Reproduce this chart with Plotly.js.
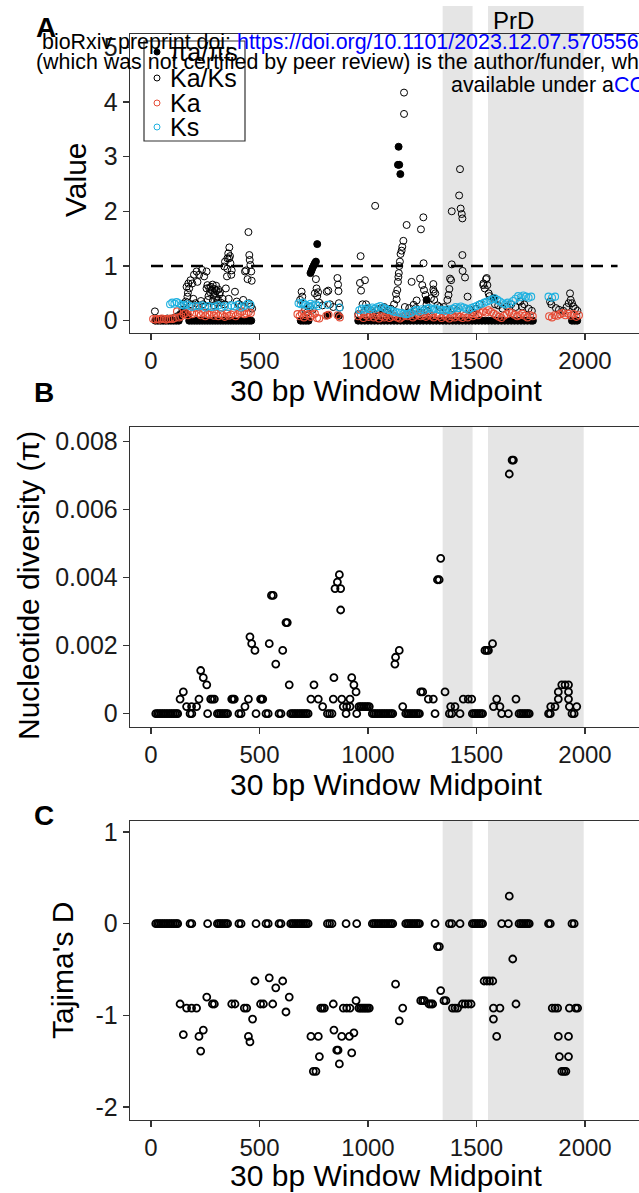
<!DOCTYPE html>
<html><head><meta charset="utf-8">
<script src="https://cdn.plot.ly/plotly-3.0.1.min.js"></script>
<style>html,body{margin:0;padding:0;overflow:hidden;background:#fff;width:639px;height:1193px}#chart{width:660px;height:1193px}</style>
</head><body><div id="chart"></div>
<script>
// ---------------- DATA ----------------
const xTickVals = [0, 500, 1000, 1500, 2000];
const xTickText = ['0', '500', '1000', '1500', '2000'];
const yTicksA = [0, 1, 2, 3, 4, 5];
const yTicksB = [0, 0.002, 0.004, 0.006, 0.008];
const yTickTextB = ['0', '0.002', '0.004', '0.006', '0.008'];
const yTicksC = [-2, -1, 0, 1];
const prdStart = [1344, 1553];
const prdEnd = [1482, 1994];
const neutralRatio = 1;          // Ka/Ks = 1 reference
const neutralFrom = 0, neutralTo = 2150;

// Panel A: πa/πs (filled)
const piRatioX = [20,32,44,56,68,80,92,104,116,128, 140,150,160,170,
  176,188,200,212,224,236,248,260,272,284,296,308,320,332,344,356,368,380,392,404,416,428,440,452,462,
  690,702,714,726,735,740,745,750,755,760,766,814,866,
  955,970,985,1000,1015,1030,1045,1060,1075,1090,1105,1120,1135,1150,1165,1180,1195,1210,1225,1240,1255,1270,1285,1300,1315,1330,1345,1360,1375,1390,1405,1420,1435,1450,1465,1480,1495,1510,1525,1540,1555,1570,1585,1600,1615,1630,1645,1660,1675,1690,1705,1720,1735,1750,1760,
  1138,1141,1144,1149,1270,1580,
  1940,1952,1964];
const piRatioVal = [0,0,0,0,0,0,0,0,0,0, 0.12,0.17,0.14,0.10,
  0,0,0,0,0,0,0,0,0,0,0,0,0,0,0,0,0,0,0,0,0,0,0,0,0,
  0,0,0,0,0.87,0.92,0.97,1.01,1.05,1.08,1.40,0.10,0.09,
  0,0,0,0,0,0,0,0,0,0,0,0,0,0,0,0,0,0,0,0,0,0,0,0,0,0,0,0,0,0,0,0,0,0,0,0,0,0,0,0,0,0,0,0,0,0,0,0,0,0,0,0,0,0,0,
  2.85,3.18,2.85,2.68,0.38,0.41,
  0,0,0];

// Panel A: Ka/Ks (open black)
const kaksX = [18,30,45,60,75,90,105,120,135,145,150,160,164,168,170,172,176,182,185,190,195,198,205,210,214,220,222,230,235,240,245,250,256,256,260,262,265,268,272,276,280,284,285,288,290,292,295,300,300,302,305,308,310,315,318,322,330,338,338,341,345,350,352,352,356,358,360,361,364,366,370,372,387,395,405,418,425,433,438,445,449,452,453,455,458,460,462,464,466,
  687,694,697,702,710,720,733,745,755,760,763,766,770,775,790,810,817,825,840,859,862,864,866,870,
  955,963,966,968,975,980,986,991,1000,1010,1015,1025,1033,1045,1050,1060,1070,1075,1085,1090,1100,1105,1115,1120,1129,1132,1135,1138,1140,1142,1144,1147,1150,1155,1158,1163,1166,1166,1170,1175,1178,1185,1190,1200,1201,1210,1215,1220,1224,1230,1240,1244,1245,1250,1255,1256,1258,1260,1265,1270,1275,1285,1290,1301,1301,1303,1305,1310,1320,1330,
  1350,1360,1366,1371,1375,1378,1383,1386,1386,1395,1410,1420,1424,1427,1432,1435,1435,1436,1447,1459,1470,1485,1500,1515,1531,1532,1538,1544,1547,1550,1556,1560,1585,1600,1620,1640,1660,1680,1701,1710,1720,1740,1755,
  1839,1845,1866,1880,1900,1915,1925,1931,1934,1940,1946,1955,1965];
const kaksVal = [0.17,0.02,0.03,0.02,0.04,0.03,0.05,0.08,0.12,0.20,0.31,0.35,0.62,0.44,0.51,0.68,0.59,0.74,0.30,0.68,0.40,0.84,0.32,0.90,0.71,0.28,0.84,0.36,0.93,0.30,0.81,0.26,0.90,0.59,0.65,0.38,0.45,0.60,0.52,0.62,0.56,0.66,0.36,0.47,0.28,0.58,0.50,0.42,0.64,0.55,0.33,0.38,0.57,0.48,0.52,0.33,0.40,0.30,0.99,1.08,0.59,0.81,0.95,1.14,1.23,0.40,1.14,1.34,1.18,1.05,0.84,0.92,0.53,0.35,0.30,0.28,0.38,0.90,0.92,0.76,1.62,0.32,1.20,1.11,1.02,0.26,0.90,0.73,0.22,
  0.38,0.53,0.44,0.30,0.20,0.15,0.25,0.20,0.50,0.76,0.59,0.45,0.52,0.33,0.28,0.53,0.55,0.30,0.25,0.78,0.66,0.54,0.32,0.24,
  0.12,0.69,1.18,0.55,0.30,0.15,0.74,0.30,0.22,0.10,0.18,0.14,2.10,0.20,0.12,0.23,0.10,0.25,0.15,0.18,0.12,0.22,0.09,0.30,0.49,0.39,0.56,0.71,0.80,0.87,1.00,1.08,1.22,1.28,1.35,1.46,4.17,3.78,0.25,0.12,1.75,0.15,0.23,0.10,0.71,0.29,0.18,0.23,0.37,0.12,0.77,1.67,0.15,0.65,1.89,1.05,0.56,0.20,0.47,0.30,0.17,0.13,0.41,0.67,0.57,0.53,0.38,0.50,0.28,0.25,
  0.25,0.20,0.38,0.47,0.58,0.77,0.74,1.03,2.00,0.22,0.18,2.29,2.77,2.05,1.95,1.87,1.20,0.91,0.79,0.44,0.20,0.15,0.22,0.30,0.65,0.68,0.59,0.76,0.78,0.65,0.50,0.45,0.30,0.28,0.22,0.26,0.30,0.25,0.35,0.26,0.30,0.22,0.18,
  0.35,0.30,0.23,0.20,0.18,0.25,0.32,0.50,0.38,0.32,0.26,0.22,0.18];

// Panel A: Ka (open red)
const kaX = [10,20,30,40,50,60,70,80,90,100,110,120,130,140,150,160,170,180,190,200,210,220,230,240,250,260,270,280,290,300,310,320,330,340,350,360,370,380,390,400,410,420,430,440,450,460,
  675,685,695,705,715,725,735,745,755,765,775,808,818,860,870,
  955,967,979,991,1003,1015,1027,1039,1051,1063,1075,1087,1099,1111,1123,1135,1147,1159,1171,1183,1195,1207,1219,1231,1243,1255,1267,1279,1291,1303,1315,1327,1339,1351,1363,1375,1387,1399,1411,1423,1435,1447,1459,1471,1483,1495,1507,1519,1531,1543,1555,1567,1579,1591,1603,1615,1627,1639,1651,1663,1675,1687,1699,1711,1723,1735,1747,1759,
  1835,1848,1860,1872,1885,1898,1910,1922,1935,1948,1960,1972];
const kaVal = [0.03,0.02,0.03,0.02,0.04,0.03,0.02,0.03,0.04,0.03,0.05,0.17,0.06,0.08,0.12,0.14,0.10,0.16,0.12,0.15,0.24,0.13,0.10,0.14,0.08,0.12,0.11,0.15,0.09,0.13,0.08,0.12,0.10,0.07,0.13,0.09,0.11,0.14,0.08,0.12,0.14,0.17,0.12,0.13,0.16,0.14,
  0.12,0.08,0.13,0.06,0.10,0.12,0.07,0.11,0.13,0.05,0.04,0.09,0.11,0.10,0.06,
  0.08,0.12,0.05,0.10,0.07,0.11,0.06,0.09,0.04,0.08,0.06,0.10,0.05,0.07,0.09,0.06,0.04,0.07,0.10,0.08,0.11,0.06,0.09,0.12,0.08,0.10,0.07,0.11,0.09,0.06,0.10,0.08,0.05,0.09,0.07,0.04,0.08,0.06,0.10,0.07,0.05,0.09,0.06,0.11,0.08,0.12,0.10,0.14,0.17,0.15,0.19,0.16,0.13,0.10,0.07,0.05,0.09,0.12,0.16,0.14,0.11,0.08,0.10,0.13,0.09,0.06,0.10,0.08,
  0.08,0.06,0.10,0.09,0.12,0.14,0.10,0.13,0.09,0.12,0.07,0.10];

// Panel A: Ks (open cyan)
const ksX = [88,98,108,118,128,140,152,165,178,190,205,220,235,250,265,280,295,310,325,340,355,370,385,400,415,430,445,458,
  680,690,700,712,724,736,748,760,770,814,868,
  960,972,984,996,1008,1020,1032,1044,1056,1068,1080,1092,1104,1116,1128,1140,1152,1164,1176,1188,1200,1212,1224,1236,1248,1260,1272,1284,1296,1308,1320,1332,
  1344,1356,1368,1380,1392,1404,1416,1428,1440,1452,1464,1476,1488,1500,1512,1524,1536,1548,1560,1572,1584,1596,1608,1620,1632,1644,1656,1668,1680,1692,1704,1716,1728,1740,1752,
  1832,1848,1862];
const ksVal = [0.30,0.33,0.31,0.34,0.32,0.29,0.28,0.30,0.27,0.25,0.27,0.26,0.28,0.24,0.27,0.25,0.26,0.28,0.24,0.27,0.25,0.28,0.26,0.29,0.24,0.27,0.31,0.29,
  0.32,0.30,0.33,0.29,0.27,0.31,0.28,0.30,0.27,0.29,0.24,
  0.19,0.22,0.20,0.23,0.21,0.24,0.22,0.25,0.27,0.24,0.22,0.20,0.19,0.17,0.16,0.15,0.14,0.13,0.12,0.13,0.15,0.18,0.20,0.17,0.21,0.19,0.22,0.23,0.20,0.22,0.21,0.19,
  0.20,0.18,0.21,0.19,0.22,0.25,0.23,0.26,0.24,0.22,0.20,0.23,0.25,0.27,0.29,0.31,0.33,0.35,0.37,0.39,0.41,0.38,0.35,0.32,0.30,0.33,0.31,0.36,0.40,0.45,0.43,0.46,0.44,0.42,0.44,
  0.44,0.42,0.44];

// Panel B: nucleotide diversity π
const piX = [22,30,38,46,54,62,70,78,86,94,102,110,118,123,
  180,188,261,306,314,322,330,338,346,353,
  405,415,484,530,540,590,599,
  644,652,660,668,676,684,692,700,708,716,724,
  813,823,834,899,948,
  1020,1028,1036,1044,1052,1060,1068,1076,1084,1092,1100,1108,1114,
  1174,1182,1190,1198,1206,1214,1222,1230,1237,1309,
  1375,1386,1424,1481,1489,1497,1505,1513,1521,1528,
  1616,1647,1696,1704,1712,1720,1728,1736,1743,1832,1840,1940,1950,
  164,187,210,433,791,886,902,917,958,966,974,982,990,998,1006,1160,1381,1401,1578,1608,1842,1862,1928,1962,
  134,221,275,283,292,372,378,384,449,505,510,515,737,771,840,879,917,1278,1301,1439,1462,1478,1593,1682,1877,1924,
  149,945,1243,1252,1355,1877,1924,
  257,637,751,935,1893,1908,1924,
  241,843,925, 229, 575,1124, 1127,
  479,607,1144,1539,1547,1555,
  464,545,1574, 456, 622,628, 874, 555,563, 848,874, 859, 1320,1328, 868, 1335, 1651, 1664,1670];
const piVal = [0,0,0,0,0,0,0,0,0,0,0,0,0,0,
  0,0,0,0,0,0,0,0,0,0,
  0,0,0,0,0,0,0,
  0,0,0,0,0,0,0,0,0,0,0,
  0,0,0,0,0,
  0,0,0,0,0,0,0,0,0,0,0,0,0,
  0,0,0,0,0,0,0,0,0,0,
  0,0,0,0,0,0,0,0,0,0,
  0,0,0,0,0,0,0,0,0,0,0,0,0,
  0.00021,0.00021,0.00021,0.00021,0.00021,0.00021,0.00021,0.00021,0.00021,0.00021,0.00021,0.00021,0.00021,0.00021,0.00021,0.00021,0.00021,0.00021,0.00021,0.00021,0.00021,0.00021,0.00021,0.00021,
  0.00043,0.00043,0.00043,0.00043,0.00043,0.00043,0.00043,0.00043,0.00043,0.00043,0.00043,0.00043,0.00043,0.00043,0.00043,0.00043,0.00043,0.00043,0.00043,0.00043,0.00043,0.00043,0.00043,0.00043,0.00043,0.00043,
  0.00064,0.00064,0.00064,0.00064,0.00064,0.00064,0.00064,
  0.00085,0.00085,0.00085,0.00085,0.00085,0.00085,0.00085,
  0.00106,0.00106,0.00106, 0.00127, 0.00146,0.00146, 0.00166,
  0.00186,0.00186,0.00186,0.00186,0.00186,0.00186,
  0.00206,0.00206,0.00206, 0.00226, 0.00268,0.00268, 0.00305, 0.00348,0.00348, 0.00368,0.00368, 0.00387, 0.00394,0.00394, 0.00409, 0.00457, 0.00705, 0.00746,0.00746];

// Panel C: Tajima's D
const tajX = [22,30,38,46,54,62,70,78,86,94,102,110,118,123,
  180,188,261,306,314,322,330,338,346,353,
  405,415,484,530,540,590,599,
  644,652,660,668,676,684,692,700,708,716,724,
  813,823,834,899,948,
  1020,1028,1036,1044,1052,1060,1068,1076,1084,1092,1100,1108,1114,
  1174,1182,1190,1198,1206,1214,1222,1230,1237,1309,
  1375,1386,1424,1481,1489,1497,1505,1513,1521,1528,
  1616,1647,1696,1704,1712,1720,1728,1736,1743,1832,1840,1940,1950,
  134,149,164,187,210,221,229,241,257,283,292,372,387,430,441,449,456,468,479,505,518,545,561,575,607,622,637,
  737,771,748,760,776,782,790,799,840,843,856,862,868,879,886,902,917,914,925,935,945,958,966,974,982,990,998,1006,
  1127,1144,1160,1243,1252,1260,1281,1290,1298,1320,1329,1335,1350,1359,1389,1401,1413,1435,1448,1462,1475,
  1535,1548,1560,1575,1578,1608,1578,1593,1651,1667,1682,
  1849,1862,1874,1928,1957,1966,1877,1924,1882,1924,1893,1903,1912];
const tajVal = [0,0,0,0,0,0,0,0,0,0,0,0,0,0,
  0,0,0,0,0,0,0,0,0,0,
  0,0,0,0,0,0,0,
  0,0,0,0,0,0,0,0,0,0,0,
  0,0,0,0,0,
  0,0,0,0,0,0,0,0,0,0,0,0,0,
  0,0,0,0,0,0,0,0,0,0,
  0,0,0,0,0,0,0,0,0,0,
  0,0,0,0,0,0,0,0,0,0,0,0,0,
  -0.876,-1.21,-0.92,-0.92,-0.92,-1.23,-1.39,-1.16,-0.80,-0.876,-0.876,-0.876,-0.876,-0.92,-0.92,-1.23,-1.29,-1.04,-0.625,-0.876,-0.876,-0.59,-0.876,-0.70,-0.625,-0.963,-0.80,
  -1.23,-1.23,-1.61,-1.61,-1.45,-0.92,-0.92,-0.92,-0.876,-1.16,-1.38,-1.38,-1.53,-1.23,-0.92,-0.92,-0.92,-1.23,-1.41,-1.19,-0.84,-0.92,-0.92,-0.92,-0.92,-0.92,-0.92,-0.92,
  -0.66,-1.06,-0.92,-0.84,-0.84,-0.84,-0.876,-0.876,-0.876,-0.25,-0.25,-0.73,-0.84,-0.84,-0.92,-0.92,-0.92,-0.876,-0.876,-0.876,-0.876,
  -0.625,-0.625,-0.625,-0.625,-0.92,-0.92,-1.04,-1.23,0.30,-0.385,-0.876,
  -0.92,-0.92,-0.92,-0.92,-0.92,-0.92,-1.23,-1.23,-1.45,-1.45,-1.61,-1.61,-1.61];

const legendLabels = ['πa/πs', 'Ka/Ks', 'Ka', 'Ks'];

// ---------------- LAYOUT ----------------
const W = 660, H = 1193, ML = 130, MR = 18;
const px = X => (X - ML) / (W - ML - MR);
const py = Y => 1 - Y / H;
const FONT = 'Liberation Sans, Arial, Helvetica, sans-serif';
const RED = '#E64B35', CYAN = '#1FB1E0', INK = '#333333';

function mk(x, y, xa, ya, color, filled, lw, sz) {
  return {x: x, y: y, xaxis: xa, yaxis: ya, type: 'scatter', mode: 'markers', showlegend: false,
    hoverinfo: 'skip', cliponaxis: true,
    marker: {symbol: filled ? 'circle' : 'circle-open', size: sz, color: color,
      line: {color: color, width: lw}}};
}
const traces = [
  mk(piRatioX, piRatioVal, 'x', 'y', 'black', true, 1, 7),
  mk(kaksX, kaksVal, 'x', 'y', 'black', false, 1, 7),
  mk(kaX, kaVal, 'x', 'y', RED, false, 1.1, 7),
  mk(ksX, ksVal, 'x', 'y', CYAN, false, 1.1, 7),
  mk(piX, piVal, 'x2', 'y2', 'black', false, 1.8, 7),
  mk(tajX, tajVal, 'x3', 'y3', 'black', false, 1.8, 7)
];

const xRange = [(ML - 151) / 0.217, (W - MR - 151) / 0.217];
function xAx(anchor) {
  return {anchor: anchor, domain: [0, 1], range: xRange, showline: true, mirror: true,
    linecolor: INK, linewidth: 1.3, ticks: 'outside', ticklen: 6, tickwidth: 1.3, tickcolor: INK,
    showgrid: false, zeroline: false, tickvals: xTickVals, ticktext: xTickText,
    tickfont: {family: FONT, size: 24, color: '#1a1a1a'}, fixedrange: true};
}
function yAx(anchor, dom, range, tv, tt) {
  return {anchor: anchor, domain: dom, range: range, showline: true, mirror: true,
    linecolor: INK, linewidth: 1.3, ticks: 'outside', ticklen: 6, tickwidth: 1.3, tickcolor: INK,
    showgrid: false, zeroline: false, tickvals: tv, ticktext: tt,
    tickfont: {family: FONT, size: 25, color: '#1a1a1a'}, fixedrange: true};
}

const shapes = [];
for (let i = 0; i < prdStart.length; i++) {
  shapes.push({type: 'rect', xref: 'x', yref: 'paper', x0: prdStart[i], x1: prdEnd[i],
    y0: py(333), y1: py(6), fillcolor: '#E5E5E5', line: {width: 0}, layer: 'below'});
  shapes.push({type: 'rect', xref: 'x2', yref: 'y2 domain', x0: prdStart[i], x1: prdEnd[i],
    y0: 0, y1: 1, fillcolor: '#E5E5E5', line: {width: 0}, layer: 'below'});
  shapes.push({type: 'rect', xref: 'x3', yref: 'y3 domain', x0: prdStart[i], x1: prdEnd[i],
    y0: 0, y1: 1, fillcolor: '#E5E5E5', line: {width: 0}, layer: 'below'});
}
shapes.push({type: 'line', xref: 'x', yref: 'y', x0: neutralFrom, x1: neutralTo, y0: neutralRatio, y1: neutralRatio,
  line: {color: 'black', width: 2.6, dash: '12px,8px'}, layer: 'above'});
// legend box + symbols
shapes.push({type: 'rect', xref: 'paper', yref: 'paper', x0: px(144), x1: px(245), y0: py(141), y1: py(41),
  fillcolor: 'white', line: {color: INK, width: 1.2}, layer: 'above'});
const legRows = [52, 78, 103, 127];
const legColors = ['black', 'black', RED, CYAN];
legRows.forEach((Y, i) => {
  shapes.push({type: 'circle', xref: 'paper', yref: 'paper', xsizemode: 'pixel', ysizemode: 'pixel',
    xanchor: px(157), yanchor: py(Y), x0: -3, x1: 3, y0: -3, y1: 3,
    fillcolor: i === 0 ? 'black' : 'rgba(0,0,0,0)', line: {color: legColors[i], width: 1}, layer: 'above'});
});

const ann = [];
function addText(text, X, Y, size, opts) {
  ann.push(Object.assign({text: text, xref: 'paper', yref: 'paper', x: px(X), y: py(Y),
    xanchor: 'center', yanchor: 'middle', showarrow: false,
    font: {family: FONT, size: size, color: 'black'}}, opts || {}));
}
addText('<b>A</b>', 46, 27, 28);
addText('<b>B</b>', 44, 392, 28);
addText('<b>C</b>', 44, 815, 28);
ann.push({text: 'PrD', xref: 'x', yref: 'paper', x: (prdStart[0] + prdEnd[1]) / 2, y: py(20),
  xanchor: 'center', yanchor: 'middle', showarrow: false, font: {family: FONT, size: 24, color: 'black'}});
addText('30 bp Window Midpoint', 386, 390, 30);
addText('30 bp Window Midpoint', 386, 784, 30);
addText('30 bp Window Midpoint', 386, 1175, 30);
addText('Value', 75, 180, 30, {textangle: -90});
addText('Nucleotide diversity (π)', 28, 586, 30, {textangle: -90});
addText("Tajima's D", 62, 971, 30, {textangle: -90});
legendLabels.forEach((t, i) => addText(t, 168, legRows[i], 25, {xanchor: 'left'}));
addText('bioRxiv preprint doi: <span style="color:#0000FF">https://doi.org/10.1101/2023.12.07.570556</span>', 40, 42, 21.4, {xanchor: 'left'});
addText('(which was not certified by peer review) is the author/funder, who', 34, 62, 21.4, {xanchor: 'left'});
addText('available under a<span style="color:#0000FF">CC</span>', 449, 85, 21.4, {xanchor: 'left'});

const layout = {
  width: W, height: H, margin: {l: ML, r: MR, t: 0, b: 0, pad: 0},
  paper_bgcolor: 'white', plot_bgcolor: 'rgba(0,0,0,0)',
  font: {family: FONT, color: 'black'}, showlegend: false,
  xaxis: xAx('y'), xaxis2: xAx('y2'), xaxis3: xAx('y3'),
  yaxis: yAx('x', [py(333), py(34)], [(320.7 - 333) / 54.7, (320.7 - 34) / 54.7], yTicksA, yTicksA.map(String)),
  yaxis2: yAx('x2', [py(727), py(427)], [(713.7 - 727) / 34000, (713.7 - 427) / 34000], yTicksB, yTickTextB),
  yaxis3: yAx('x3', [py(1120), py(821)], [(923.7 - 1120) / 91.67, (923.7 - 821) / 91.67], yTicksC, yTicksC.map(String)),
  shapes: shapes, annotations: ann
};
Plotly.newPlot('chart', traces, layout, {staticPlot: true, displayModeBar: false});
</script></body></html>
